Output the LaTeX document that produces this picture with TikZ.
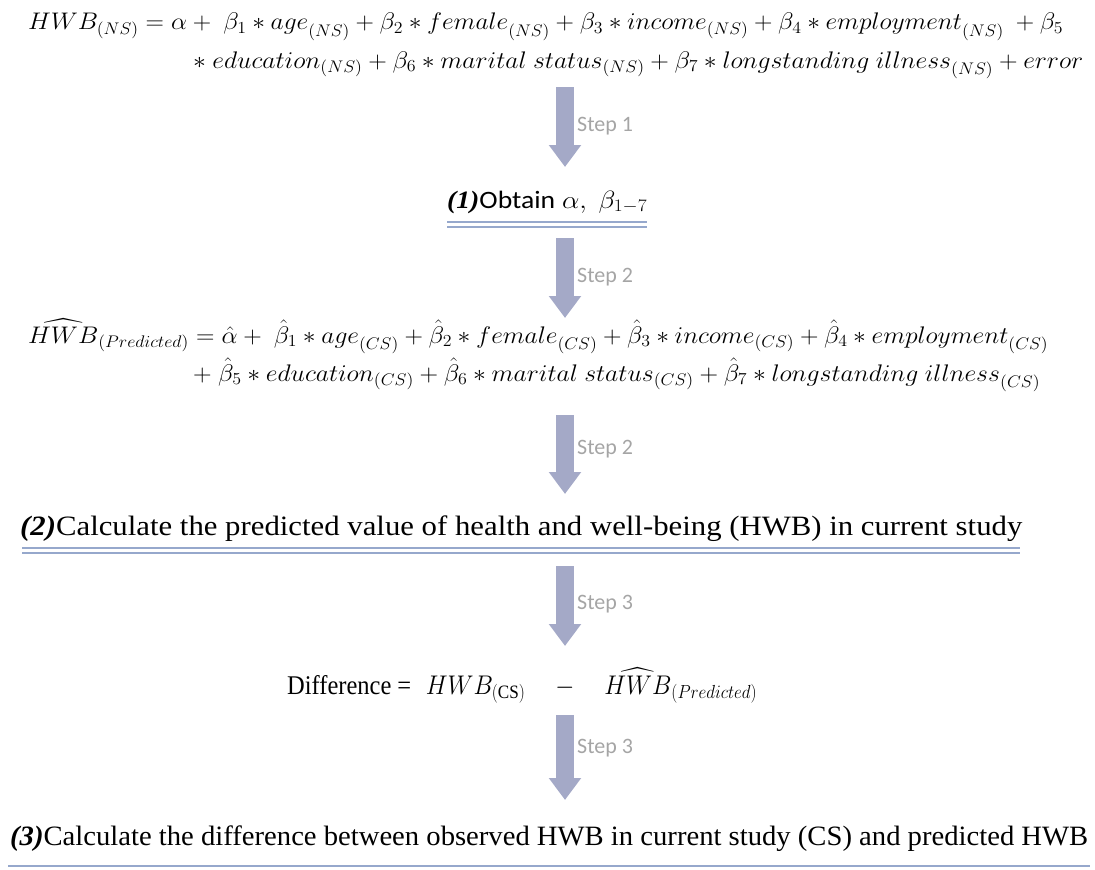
\RequirePackage{fix-cm}
\documentclass[tikz,border=0pt]{standalone}
\usepackage{amsmath}
\usepackage{fontspec}
\setmainfont{Liberation Serif}
\newfontfamily\calibri{Carlito}
\usetikzlibrary{arrows.meta}
\definecolor{arrowc}{RGB}{164,169,199}
\definecolor{stepc}{RGB}{165,165,165}
\definecolor{linec}{RGB}{150,168,204}
\newcommand\lowsub[1]{_{\raisebox{-3pt}{$\scriptstyle #1$}}}
\tikzset{
  eqline/.style={anchor=base west, inner sep=0pt, font=\fontsize{24}{28}\selectfont},
  txtline/.style={anchor=base west, inner sep=0pt, font=\rmfamily\fontsize{28}{32}\selectfont},
  blockarrow/.style={arrowc, line width=18pt, -{Triangle[width=31pt,length=22pt]}},
  steplabel/.style={anchor=west, inner sep=0pt, text=stepc, font=\calibri\fontsize{22}{26}\selectfont},
  uline/.style={linec, line width=1.4pt}
}
\begin{document}
\begin{tikzpicture}[x=1pt,y=-1pt]
\useasboundingbox (0,0) rectangle (1095,870);
% equation 1
\node[eqline] (eqA) at (28,30) {\resizebox{1035pt}{\height}{$HWB_{(NS)} = \alpha +\ \beta_1 \ast age\lowsub{(NS)} + \beta_2 \ast female\lowsub{(NS)} + \beta_3 \ast income_{(NS)} + \beta_4 \ast employment\lowsub{(NS)}\ + \beta_5$}};
\node[eqline] (eqB) at (193,68) {\resizebox{890pt}{\height}{$\ast\ education_{(NS)} + \beta_6 \ast marital\ status_{(NS)} + \beta_7 \ast longstanding\ illness\lowsub{(NS)} + error$}};
% step 1
\coordinate (a1s) at (565,87);
\coordinate (a1e) at (565,167);
\draw[blockarrow] (a1s) -- (a1e);
\node[steplabel] (s1) at (577,126) {Step 1};
% (1)
\node[anchor=base west, inner sep=0pt, font=\rmfamily\fontsize{25}{29}\selectfont] (o1) at (447,208) {\resizebox{200pt}{\height}{\textbf{\textit{(1)}}{\calibri Obtain} $\alpha,\ \beta_{1-7}$}};
\draw[uline] (447,222) -- (647,222);
\draw[uline] (447,227) -- (647,227);
% step 2
\coordinate (a2s) at (565,238);
\coordinate (a2e) at (565,318);
\draw[blockarrow] (a2s) -- (a2e);
\node[steplabel] (s2) at (577,277) {Step 2};
% equation 2
\node[eqline] (eqC) at (28,343) {\resizebox{1020pt}{\height}{$\widehat{HWB}_{(Predicted)} = \hat{\alpha} +\ \hat{\beta}_1 \ast age\lowsub{(CS)} + \hat{\beta}_2 \ast female\lowsub{(CS)} + \hat{\beta}_3 \ast income_{(CS)} + \hat{\beta}_4 \ast employment\lowsub{(CS)}$}};
\node[eqline] (eqD) at (193,381) {\resizebox{847pt}{\height}{$+\ \hat{\beta}_5 \ast education_{(CS)} + \hat{\beta}_6 \ast marital\ status_{(CS)} + \hat{\beta}_7 \ast longstanding\ illness\lowsub{(CS)}$}};
% step 2 again
\coordinate (a3s) at (565,415);
\coordinate (a3e) at (565,494);
\draw[blockarrow] (a3s) -- (a3e);
\node[steplabel] (s3) at (577,449) {Step 2};
% (2)
\node[txtline] (t2) at (20,535) {\resizebox{1002pt}{\height}{\textbf{\textit{(2)}}Calculate the predicted value of health and well-being (HWB) in current study}};
\draw[uline] (22,548) -- (1020,548);
\draw[uline] (22,553) -- (1020,553);
% step 3
\coordinate (a4s) at (565,566);
\coordinate (a4e) at (565,646);
\draw[blockarrow] (a4s) -- (a4e);
\node[steplabel] (s4) at (577,604) {Step 3};
% difference
\node[anchor=base west, inner sep=0pt, font=\rmfamily\fontsize{27}{31}\selectfont] (diff) at (287,694) {\resizebox{470pt}{\height}{Difference =\hspace{0.6em}$HWB_{(\mathrm{CS})}\quad-\quad\widehat{HWB}_{(Predicted)}$}};
% step 3 again
\coordinate (a5s) at (565,715);
\coordinate (a5e) at (565,800);
\draw[blockarrow] (a5s) -- (a5e);
\node[steplabel] (s5) at (577,748) {Step 3};
% (3)
\node[txtline] (t3) at (10,845) {\resizebox{1078pt}{\height}{\textbf{\textit{(3)}}Calculate the difference between observed HWB in current study (CS) and predicted HWB}};
\draw[uline] (8,866) -- (1090,866);
\end{tikzpicture}
\end{document}
